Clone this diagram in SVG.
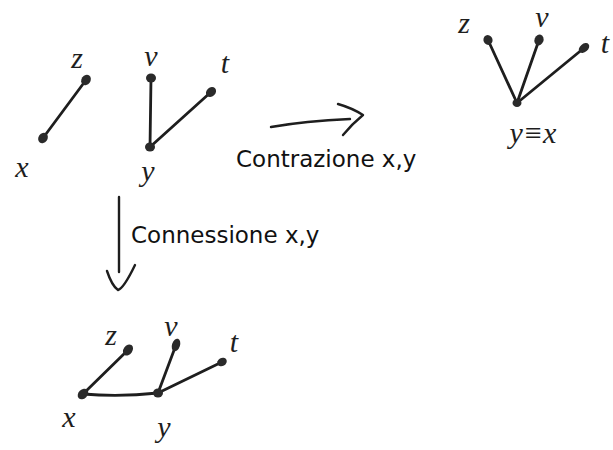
<svg xmlns="http://www.w3.org/2000/svg" width="613" height="450" viewBox="0 0 613 450">
  <style>
    .edge { fill: none; stroke: #1e1e1e; stroke-width: 2.8; stroke-linecap: round; stroke-linejoin: round; }
    .pen { fill: none; stroke: #1e1e1e; stroke-width: 2.4; stroke-linecap: round; stroke-linejoin: round; }
    .dot { fill: #2a2a2a; }
    .var { font-family: "Liberation Serif", "DejaVu Serif", serif; font-style: italic; font-size: 30px; fill: #1e1e1e; text-anchor: middle; }
    .caption { font-family: "DejaVu Sans", "Noto Sans", sans-serif; font-size: 23px; fill: #111; }
  </style>
  <rect width="613" height="450" fill="#fff"/>

  <!-- edges and the two transformation arrows -->
  <g id="connectors">
    <!-- starting graph: x-z and y-v, y-t -->
    <path class="edge" d="M43,138 L86,80"/>
    <path class="edge" d="M151,78 L150,147"/>
    <path class="edge" d="M150,147 L211,92"/>
    <!-- contracted graph -->
    <path class="edge" d="M517,103 L488,40"/>
    <path class="edge" d="M517,103 L539,40"/>
    <path class="edge" d="M517,103 L584,48"/>
    <!-- connected graph -->
    <path class="edge" d="M83,394 L128,350"/>
    <path class="edge" d="M83,394 Q120,397 158,393"/>
    <path class="edge" d="M158,393 L176,345"/>
    <path class="edge" d="M158,393 L222,362"/>
    <!-- contraction arrow -->
    <path class="pen" d="M271,127 Q305,121 350,119"/>
    <path class="pen" d="M338,104 Q352,108 363,115 Q352,124 343,135"/>
    <!-- connection arrow -->
    <path class="pen" d="M119,197 L119,272"/>
    <path class="pen" d="M107,271 Q112,286 118,290 Q124,288 135,265"/>
  </g>

  <!-- starting graph -->
  <g id="a-x"><ellipse class="dot" cx="43" cy="138" rx="5.5" ry="4.5" transform="rotate(-54 43 138)"/><text class="var" x="22" y="177">x</text></g>
  <g id="a-z"><ellipse class="dot" cx="86" cy="80" rx="5.5" ry="4.5" transform="rotate(-54 86 80)"/><text class="var" x="77" y="68">z</text></g>
  <g id="b-v"><ellipse class="dot" cx="151" cy="78" rx="5" ry="4.5"/><text class="var" x="151" y="66">v</text></g>
  <g id="b-y"><ellipse class="dot" cx="150" cy="147" rx="5" ry="4.5"/><text class="var" x="148" y="181">y</text></g>
  <g id="b-t"><ellipse class="dot" cx="211" cy="92" rx="5.5" ry="4.5" transform="rotate(-42 211 92)"/><text class="var" x="225" y="73">t</text></g>

  <!-- contracted graph -->
  <g id="c-yx"><ellipse class="dot" cx="517" cy="103" rx="4.5" ry="4"/><text class="var" x="533" y="143" font-size="28">y≡x</text></g>
  <g id="c-z"><ellipse class="dot" cx="488" cy="40" rx="5" ry="4.5" transform="rotate(65 488 40)"/><text class="var" x="464" y="33">z</text></g>
  <g id="c-v"><ellipse class="dot" cx="539" cy="40" rx="5.5" ry="4.5" transform="rotate(-70 539 40)"/><text class="var" x="542" y="27" font-size="26">v</text></g>
  <g id="c-t"><ellipse class="dot" cx="584" cy="48" rx="6" ry="4" transform="rotate(-40 584 48)"/><text class="var" x="605" y="53">t</text></g>

  <!-- connected graph -->
  <g id="d-x"><ellipse class="dot" cx="83" cy="394" rx="6" ry="4.5" transform="rotate(-45 83 394)"/><text class="var" x="69" y="427">x</text></g>
  <g id="d-z"><ellipse class="dot" cx="128" cy="350" rx="6" ry="4.5" transform="rotate(-55 128 350)"/><text class="var" x="111" y="345">z</text></g>
  <g id="d-y"><ellipse class="dot" cx="158" cy="393" rx="5" ry="4.5"/><text class="var" x="164" y="437">y</text></g>
  <g id="d-v"><ellipse class="dot" cx="176" cy="345" rx="6.5" ry="4" transform="rotate(-72 176 345)"/><text class="var" x="171" y="336">v</text></g>
  <g id="d-t"><ellipse class="dot" cx="222" cy="362" rx="5" ry="4" transform="rotate(-30 222 362)"/><text class="var" x="234" y="352">t</text></g>

  <!-- captions -->
  <text class="caption" x="236" y="166.5">Contrazione x,y</text>
  <text class="caption" x="131" y="242.5">Connessione x,y</text>
</svg>
